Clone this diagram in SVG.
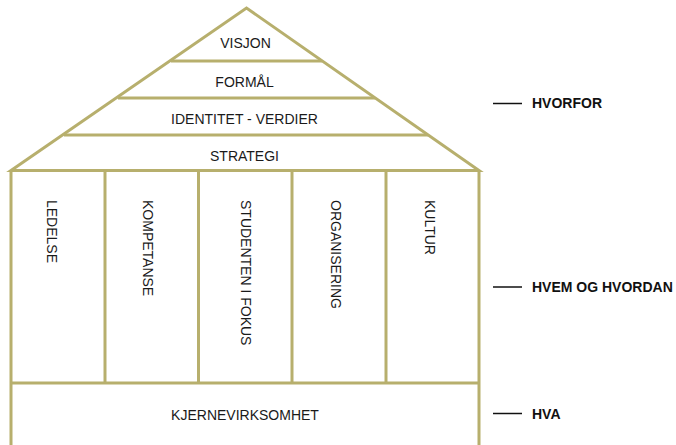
<svg xmlns="http://www.w3.org/2000/svg" width="676" height="445" viewBox="0 0 676 445">
<style>
.ln{stroke:#b7af6d;stroke-width:3;fill:none;stroke-linejoin:miter}
.t{font-family:"Liberation Sans",Arial,sans-serif;font-size:14px;fill:#1a1a1a}
.c{text-anchor:middle}
.b{font-weight:bold;fill:#111}
.dash{stroke:#111;stroke-width:1.5}
</style>
<rect width="676" height="445" fill="#ffffff"/>
<g id="connectors">
<path class="ln" d="M11,170.5 L246.5,8 L479,170.5 Z"/>
<line class="ln" x1="171" y1="61" x2="322" y2="61"/>
<line class="ln" x1="118" y1="98" x2="375" y2="98"/>
<line class="ln" x1="64" y1="135" x2="428" y2="135"/>
<path class="ln" d="M11,170.5 V445 M479,170.5 V445"/>
<line class="ln" x1="105" y1="170.5" x2="105" y2="383"/>
<line class="ln" x1="198.5" y1="170.5" x2="198.5" y2="383"/>
<line class="ln" x1="292" y1="170.5" x2="292" y2="383"/>
<line class="ln" x1="386" y1="170.5" x2="386" y2="383"/>
<line class="ln" x1="11" y1="383" x2="479" y2="383"/>
<line class="dash" x1="493" y1="103.5" x2="522" y2="103.5"/>
<line class="dash" x1="493" y1="287" x2="522" y2="287"/>
<line class="dash" x1="493" y1="413.5" x2="522" y2="413.5"/>
</g>
<g id="visjon"><text class="t c" x="245.5" y="48">VISJON</text></g>
<g id="formal"><text class="t c" x="244.5" y="86.5">FORMÅL</text></g>
<g id="identitet"><text class="t c" x="244.5" y="124">IDENTITET - VERDIER</text></g>
<g id="strategi"><text class="t c" x="244.5" y="160.5">STRATEGI</text></g>
<g id="ledelse"><text class="t" transform="translate(46.5,200) rotate(90)">LEDELSE</text></g>
<g id="kompetanse"><text class="t" transform="translate(143,200) rotate(90)">KOMPETANSE</text></g>
<g id="studenten"><text class="t" transform="translate(240.5,200) rotate(90)">STUDENTEN I FOKUS</text></g>
<g id="organisering"><text class="t" transform="translate(330.5,200) rotate(90)">ORGANISERING</text></g>
<g id="kultur"><text class="t" transform="translate(424.5,200) rotate(90)">KULTUR</text></g>
<g id="kjerne"><text class="t c" x="245" y="420">KJERNEVIRKSOMHET</text></g>
<g id="hvorfor"><text class="t b" x="532" y="108">HVORFOR</text></g>
<g id="hvem"><text class="t b" x="532" y="292">HVEM OG HVORDAN</text></g>
<g id="hva"><text class="t b" x="532" y="418.5">HVA</text></g>
</svg>
